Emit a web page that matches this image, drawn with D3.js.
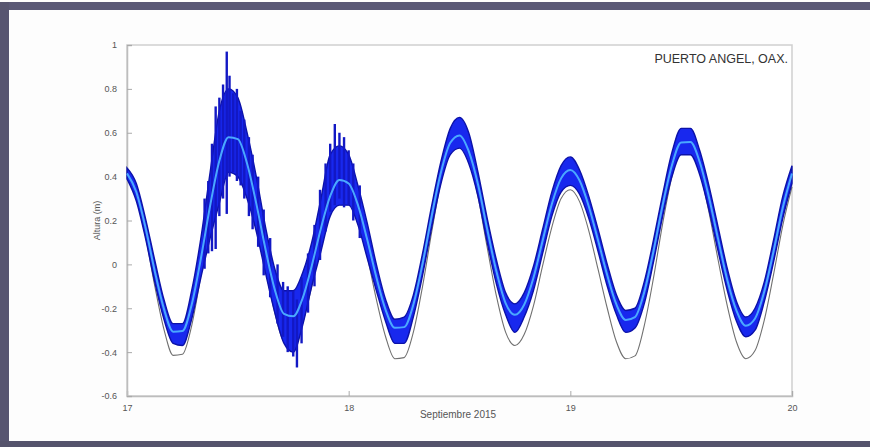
<!DOCTYPE html>
<html>
<head>
<meta charset="utf-8">
<script src="https://cdn.jsdelivr.net/npm/d3@7/dist/d3.min.js"></script>
<style>
  html, body { margin: 0; padding: 0; background: #fff; }
  svg { display: block; }
</style>
</head>
<body>
<svg id="chart" width="870" height="447"></svg>
<script>
// Hourly samples, 17 Sept 00:00 to 20 Sept 00:00 (hours since start)
const hours = d3.range(0, 73);

// Astronomical (predicted) tide, m
const predicted = [
  0.415, 0.318, 0.13, -0.097, -0.296, -0.415, -0.41, -0.28, -0.05, 0.215,
  0.44, 0.56, 0.55, 0.42, 0.22, -0.02, -0.22, -0.35, -0.36, -0.27,
  -0.10, 0.10, 0.27, 0.355, 0.335, 0.22, 0.04, -0.16, -0.33, -0.43,
  -0.425, -0.31, -0.10, 0.15, 0.38, 0.53, 0.57, 0.485, 0.31, 0.077,
  -0.145, -0.31, -0.37, -0.32, -0.19, -0.006, 0.17, 0.30, 0.34, 0.286,
  0.153, -0.022, -0.20, -0.354, -0.43, -0.417, -0.28, -0.063, 0.187, 0.40,
  0.524, 0.526, 0.424, 0.24, 0.02, -0.19, -0.355, -0.43, -0.393, -0.254,
  -0.047, 0.177, 0.353
];

// Observed sea level, smoothed, m
const observedMean = [
  0.415, 0.331, 0.168, -0.03, -0.203, -0.307, -0.304, -0.184, 0.027, 0.267,
  0.472, 0.58, 0.571, 0.46, 0.277, 0.068, -0.115, -0.226, -0.237, -0.156,
  -0.007, 0.165, 0.311, 0.385, 0.369, 0.271, 0.114, -0.059, -0.207, -0.289,
  -0.286, -0.184, 0.003, 0.223, 0.421, 0.554, 0.588, 0.516, 0.365, 0.16,
  -0.033, -0.178, -0.23, -0.184, -0.062, 0.108, 0.275, 0.392, 0.43, 0.382,
  0.264, 0.11, -0.05, -0.184, -0.253, -0.24, -0.127, 0.06, 0.271, 0.452,
  0.556, 0.558, 0.468, 0.307, 0.115, -0.072, -0.212, -0.28, -0.247, -0.124,
  0.059, 0.258, 0.414
];

// Observed sea level, hourly upper envelope of the raw record, m
const observedHigh = [
  0.44, 0.37, 0.21, 0.02, -0.16, -0.27, -0.27, -0.12, 0.12, 0.42,
  0.70, 0.80, 0.76, 0.60, 0.40, 0.17, -0.02, -0.12, -0.12, -0.04,
  0.10, 0.30, 0.50, 0.54, 0.50, 0.36, 0.19, 0.00, -0.16, -0.25,
  -0.24, -0.14, 0.05, 0.27, 0.47, 0.62, 0.67, 0.60, 0.42, 0.21,
  0.02, -0.13, -0.18, -0.13, -0.01, 0.16, 0.33, 0.45, 0.49, 0.43,
  0.31, 0.16, 0.00, -0.14, -0.21, -0.20, -0.08, 0.11, 0.32, 0.51,
  0.62, 0.62, 0.52, 0.36, 0.17, -0.02, -0.17, -0.24, -0.20, -0.08,
  0.11, 0.31, 0.45
];

// Observed sea level, hourly lower envelope of the raw record, m
const observedLow = [
  0.39, 0.29, 0.12, -0.08, -0.25, -0.36, -0.37, -0.25, -0.06, 0.12,
  0.28, 0.42, 0.40, 0.30, 0.15, -0.04, -0.22, -0.36, -0.40, -0.28,
  -0.10, 0.06, 0.22, 0.27, 0.27, 0.18, 0.03, -0.12, -0.26, -0.36,
  -0.36, -0.24, -0.05, 0.17, 0.37, 0.50, 0.53, 0.46, 0.31, 0.10,
  -0.09, -0.23, -0.31, -0.24, -0.12, 0.05, 0.22, 0.33, 0.36, 0.32,
  0.21, 0.06, -0.10, -0.23, -0.31, -0.29, -0.18, 0.01, 0.22, 0.40,
  0.50, 0.50, 0.41, 0.25, 0.06, -0.12, -0.26, -0.33, -0.30, -0.17,
  0.01, 0.21, 0.37
];

// Short-period oscillation bursts during the storm: [hour, min, max], m
const bursts = [
  [8.4, -0.02, 0.30], [8.8, 0.05, 0.38], [9.2, 0.06, 0.55], [9.6, 0.07, 0.72],
  [10.0, 0.22, 0.76], [10.4, 0.30, 0.82], [10.8, 0.23, 0.97], [11.1, 0.40, 0.86],
  [11.5, 0.42, 0.78], [11.9, 0.38, 0.80], [12.3, 0.36, 0.70], [12.7, 0.30, 0.66],
  [13.2, 0.22, 0.58], [13.6, 0.16, 0.50], [14.2, 0.08, 0.40], [14.8, -0.05, 0.25],
  [15.5, -0.15, 0.12], [16.3, -0.27, 0.0], [16.9, -0.33, -0.08], [17.4, -0.40, -0.10],
  [18.0, -0.42, -0.12], [18.4, -0.47, -0.16], [18.9, -0.36, -0.06], [19.6, -0.22, 0.05],
  [20.3, -0.10, 0.18], [20.9, 0.02, 0.34], [21.5, 0.15, 0.46], [22.0, 0.24, 0.55],
  [22.5, 0.27, 0.64], [23.0, 0.30, 0.60], [23.5, 0.26, 0.58], [24.0, 0.27, 0.52],
  [24.5, 0.20, 0.46], [25.2, 0.12, 0.36]
];

// Axis ticks
const dayTicks = [0, 24, 48, 72];
const dayLabels = ["17", "18", "19", "20"];
const levelTicks = [1, 0.8, 0.6, 0.4, 0.2, 0, -0.2, -0.4, -0.6];
const levelLabels = ["1", "0.8", "0.6", "0.4", "0.2", "0", "-0.2", "-0.4", "-0.6"];

const titleText = "PUERTO ANGEL, OAX.";
const xTitle = "Septiembre 2015";
const yTitle = "Altura (m)";

const svg = d3.select("#chart");
const W = 870, H = 447;

// page frame
svg.append("rect").attr("x", 0).attr("y", 0).attr("width", W).attr("height", H).attr("fill", "#fdfdfd");
svg.append("rect").attr("x", 0).attr("y", 2).attr("width", W).attr("height", 8).attr("fill", "#5a5876");
svg.append("rect").attr("x", 0).attr("y", 2).attr("width", 9).attr("height", H - 2).attr("fill", "#575570");
svg.append("rect").attr("x", 0).attr("y", 441).attr("width", W).attr("height", 6).attr("fill", "#55536c");

const plot = { left: 127, right: 792, top: 45, bottom: 396 };

const x = d3.scaleLinear().domain([0, 72]).range([plot.left, plot.right]);
const y = d3.scaleLinear().domain([-0.6, 1]).range([plot.bottom, plot.top]);

// plot box
svg.append("rect")
  .attr("x", plot.left).attr("y", plot.top)
  .attr("width", plot.right - plot.left).attr("height", plot.bottom - plot.top)
  .attr("fill", "#ffffff").attr("stroke", "#cfcfcf").attr("stroke-width", 1.5);

// axes
const xAxis = d3.axisBottom(x).tickValues(dayTicks)
  .tickFormat((d, i) => dayLabels[i]).tickSize(-5).tickPadding(9);
const yAxis = d3.axisLeft(y).tickValues(levelTicks)
  .tickFormat((d, i) => levelLabels[i]).tickSize(-5).tickPadding(10);

const gx = svg.append("g").attr("transform", `translate(0,${plot.bottom})`).call(xAxis);
const gy = svg.append("g").attr("transform", `translate(${plot.left},0)`).call(yAxis);
[gx, gy].forEach(g => {
  g.select(".domain").attr("stroke", "#bdbdbd").attr("stroke-width", 1.5);
  g.selectAll(".tick line").attr("stroke", "#aaaaaa");
  g.selectAll(".tick text").attr("fill", "#555").attr("font-family", "Liberation Sans, Arial, sans-serif").attr("font-size", 9);
});

// tide lines
const line = (vals) => d3.line().x((d, i) => x(hours[i])).y(d => y(d)).curve(d3.curveMonotoneX)(vals);

svg.append("path").attr("d", line(predicted))
  .attr("fill", "none").attr("stroke", "#707070").attr("stroke-width", 1.1);

const band = d3.area()
  .x((d, i) => x(hours[i]))
  .y0((d, i) => y(observedLow[i]))
  .y1((d, i) => y(observedHigh[i]))
  .curve(d3.curveMonotoneX);

svg.append("path").datum(observedHigh).attr("d", band)
  .attr("fill", "#1828ee").attr("stroke", "#0c12a8").attr("stroke-width", 1.4);

svg.append("g").selectAll("line").data(bursts).join("line")
  .attr("x1", d => x(d[0])).attr("x2", d => x(d[0]))
  .attr("y1", d => y(d[1])).attr("y2", d => y(d[2]))
  .attr("stroke", "#1218c4").attr("stroke-width", 2.4);

svg.append("path").attr("d", line(observedMean))
  .attr("fill", "none").attr("stroke", "#4aa8ff").attr("stroke-width", 2);

// titles
svg.append("text").attr("x", 788).attr("y", 63).attr("text-anchor", "end")
  .attr("font-family", "Liberation Sans, Arial, sans-serif").attr("font-size", 12.5)
  .attr("fill", "#333").text(titleText);

svg.append("text").attr("x", 458).attr("y", 418).attr("text-anchor", "middle")
  .attr("font-family", "Liberation Sans, Arial, sans-serif").attr("font-size", 10)
  .attr("fill", "#555").text(xTitle);

svg.append("text").attr("transform", `translate(100,${(plot.top + plot.bottom) / 2}) rotate(-90)`)
  .attr("text-anchor", "middle")
  .attr("font-family", "Liberation Sans, Arial, sans-serif").attr("font-size", 9)
  .attr("fill", "#555").text(yTitle);
</script>
</body>
</html>
